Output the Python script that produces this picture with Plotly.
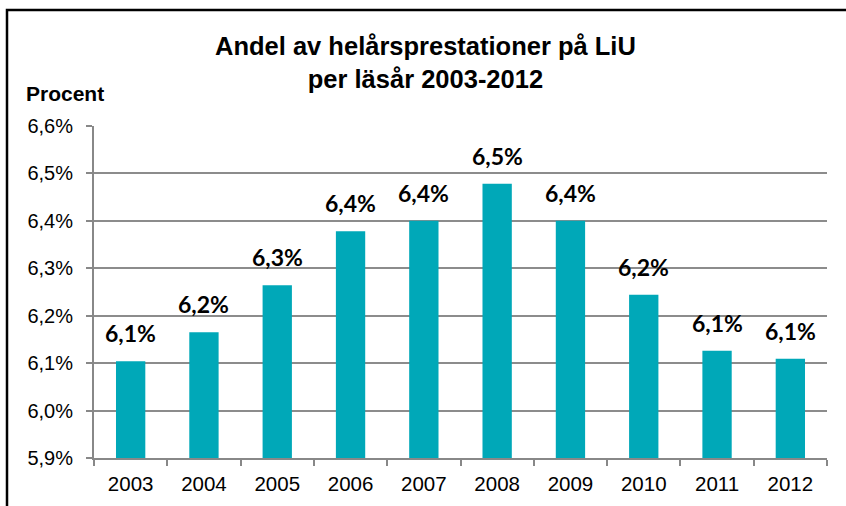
import plotly.graph_objects as go

years = ["2003", "2004", "2005", "2006", "2007", "2008", "2009", "2010", "2011", "2012"]
values = [6.104, 6.165, 6.264, 6.378, 6.400, 6.478, 6.400, 6.244, 6.126, 6.109]
labels = ["6,1%", "6,2%", "6,3%", "6,4%", "6,4%", "6,5%", "6,4%", "6,2%", "6,1%", "6,1%"]
y_ticks = [5.9, 6.0, 6.1, 6.2, 6.3, 6.4, 6.5, 6.6]
y_tick_text = ["5,9%", "6,0%", "6,1%", "6,2%", "6,3%", "6,4%", "6,5%", "6,6%"]

W, H = 846, 506
L, R, T, B = 94, 19, 126, 48
pw, ph = W - L - R, H - T - B

def px_x(p):
    return (p - L) / pw

def px_y(p):
    return (H - B - p) / ph

fig = go.Figure()
fig.add_trace(go.Bar(
    x=years, y=values,
    marker=dict(color="#00A8B8", line=dict(width=0)),
    hoverinfo="skip",
))

# category positions are given by index so the axis does not read "2003" as an index
for i, (v, t) in enumerate(zip(values, labels)):
    fig.add_annotation(x=i, y=v, text="<b>" + t + "</b>", showarrow=False, yanchor="bottom",
                       yshift=12, font=dict(family="Lato", size=23, color="#000000"))

fig.add_annotation(xref="paper", yref="paper", x=px_x(24), y=px_y(94), text="<b>Procent</b>",
                   showarrow=False, xanchor="left", yanchor="middle",
                   font=dict(family="Liberation Sans, Arial", size=21, color="#000000"))

fig.add_annotation(xref="paper", yref="paper", x=px_x(425), y=px_y(62),
                   text="<b>Andel av helårsprestationer på LiU<br>per läsår 2003-2012</b>",
                   showarrow=False, xanchor="center", yanchor="middle",
                   font=dict(family="Liberation Sans, Arial", size=25.5, color="#000000"))

fig.add_shape(type="rect", xref="paper", yref="paper",
              x0=px_x(7), x1=px_x(852), y0=px_y(512), y1=px_y(10),
              line=dict(color="#000000", width=2.5), fillcolor="rgba(0,0,0,0)", layer="above")

fig.update_layout(
    width=W, height=H,
    margin=dict(l=L, r=R, t=T, b=B, autoexpand=False),
    paper_bgcolor="white", plot_bgcolor="white",
    bargap=0.6,
    showlegend=False,
    font=dict(family="Liberation Sans, Arial", size=20, color="#000000"),
    xaxis=dict(type="category", tickson="boundaries", ticks="outside", ticklen=6,
               tickcolor="#888888", tickwidth=1.5, showline=True, linecolor="#888888",
               linewidth=2, showgrid=False, tickfont=dict(size=20.5), automargin=False,
               tickangle=0, range=[-0.5, 9.5], ticklabelstandoff=6),
    yaxis=dict(range=[5.9, 6.6], tickvals=y_ticks, ticktext=y_tick_text,
               ticks="outside", ticklen=6, tickcolor="#888888", tickwidth=1.5,
               showline=True, linecolor="#888888", linewidth=2,
               showgrid=True, gridcolor="#8c8c8c", gridwidth=1.5,
               zeroline=False, tickfont=dict(size=20), automargin=False,
               ticklabelstandoff=9),
)

fig.write_html("out.html", config={"displayModeBar": False},
               post_script="document.body.style.margin='0';")
